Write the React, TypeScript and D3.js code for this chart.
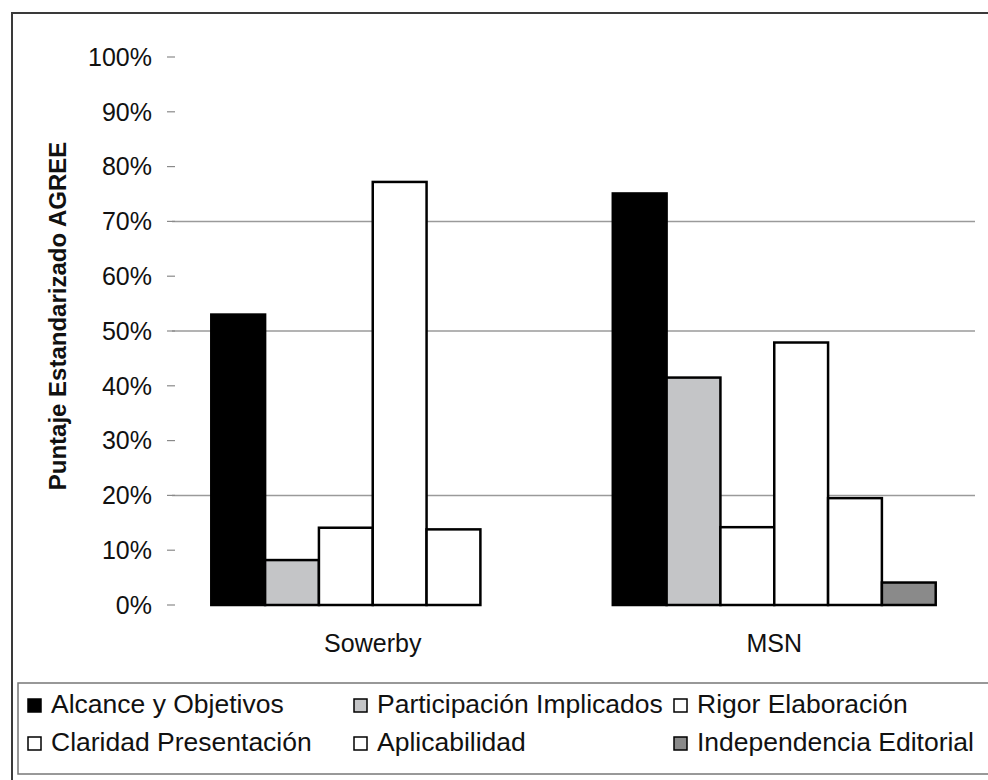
import React from "react";
import * as d3 from "d3";

const categories = ["Sowerby", "MSN"];
const seriesNames = [
  "Alcance y Objetivos",
  "Participación Implicados",
  "Rigor Elaboración",
  "Claridad Presentación",
  "Aplicabilidad",
  "Independencia Editorial",
];
const seriesColors = ["#000000", "#c4c5c7", "#ffffff", "#ffffff", "#ffffff", "#8a8a8a"];
const sowerbyValues = [0.53, 0.082, 0.141, 0.772, 0.138, 0];
const msnValues = [0.751, 0.415, 0.142, 0.479, 0.195, 0.041];
const yTicks = [0, 0.1, 0.2, 0.3, 0.4, 0.5, 0.6, 0.7, 0.8, 0.9, 1.0];
const visibleGrid = [0.2, 0.5, 0.7];
const yTitle = "Puntaje Estandarizado AGREE";

const W = 988;
const H = 780;
const FONT = "'Liberation Sans', Arial, sans-serif";

export default function App() {
  const valuesByCat: Record<string, number[]> = { Sowerby: sowerbyValues, MSN: msnValues };
  const x0 = d3.scaleBand<string>().domain(categories).range([172, 975]).paddingInner(0).paddingOuter(0);
  const x1 = d3
    .scaleBand<string>()
    .domain(seriesNames)
    .range([0, x0.bandwidth()])
    .paddingInner(0)
    .paddingOuter(0.73);
  const y = d3.scaleLinear().domain([0, 1]).range([605, 57]);
  const fmt = d3.format(".0%");

  const legendCols = [28, 354, 674];
  const legendRows = [713, 751];

  return (
    <svg
      width={W}
      height={H}
      style={{ position: "absolute", left: 0, top: 0, background: "#fff" }}
      fontFamily={FONT}
    >
      <rect x={0} y={0} width={W} height={H} fill="#fff" />
      {/* outer border */}
      <rect x={12} y={13} width={1000} height={800} fill="none" stroke="#3a3a3a" strokeWidth={2} />

      {/* gridlines */}
      {visibleGrid.map((t) => (
        <line key={"g" + t} x1={172} x2={975} y1={y(t)} y2={y(t)} stroke="#9a9a9a" strokeWidth={1.5} />
      ))}
      {/* ticks and labels */}
      {yTicks.map((t) => (
        <g key={"t" + t}>
          <line x1={167} x2={175} y1={y(t)} y2={y(t)} stroke="#8a8a8a" strokeWidth={1.2} />
          <text x={152} y={y(t)} dy="0.35em" textAnchor="end" fontSize={25} fill="#111">
            {fmt(t)}
          </text>
        </g>
      ))}

      {/* y title */}
      <text
        transform={`translate(66,${y(0.5) - 15}) rotate(-90)`}
        textAnchor="middle"
        fontSize={24}
        fontWeight="bold"
        fill="#111"
      >
        {yTitle}
      </text>

      {/* bars */}
      {categories.map((c) => (
        <g key={c} transform={`translate(${x0(c)},0)`}>
          {seriesNames.map((s, i) => {
            const v = valuesByCat[c][i];
            if (v <= 0) return null;
            return (
              <rect
                key={s}
                x={x1(s)}
                y={y(v)}
                width={x1.bandwidth()}
                height={y(0) - y(v)}
                fill={seriesColors[i]}
                stroke="#000"
                strokeWidth={2.5}
              />
            );
          })}
          <text
            x={x0.bandwidth() / 2}
            y={652}
            textAnchor="middle"
            fontSize={25}
            fill="#111"
          >
            {c}
          </text>
        </g>
      ))}

      {/* legend */}
      <rect x={18} y={683} width={1000} height={91} fill="none" stroke="#777" strokeWidth={1.5} />
      {seriesNames.map((s, i) => {
        const cx = legendCols[i % 3];
        const by = legendRows[Math.floor(i / 3)];
        return (
          <g key={"l" + s}>
            <rect x={cx} y={by - 14} width={13} height={13} fill={seriesColors[i]} stroke="#000" strokeWidth={1.5} />
            <text x={cx + 23} y={by} fontSize={26.5} fill="#111">
              {s}
            </text>
          </g>
        );
      })}
    </svg>
  );
}
